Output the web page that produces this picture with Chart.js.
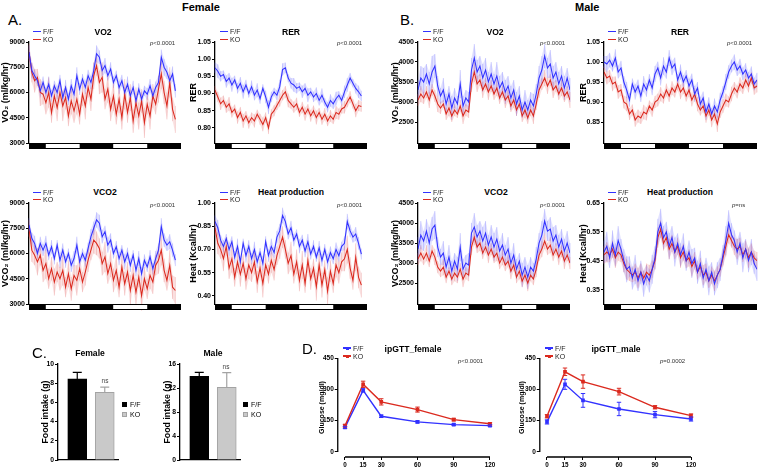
<!DOCTYPE html>
<html><head><meta charset="utf-8">
<script src="https://cdn.jsdelivr.net/npm/chart.js"></script>
<style>
html,body{margin:0;padding:0;background:#fff}
#fig{position:relative;width:758px;height:469px;overflow:hidden;font-family:"Liberation Sans",Arial,Helvetica,sans-serif;color:#000;background:#fff}
#fig canvas{position:absolute}
.tx{position:absolute;white-space:nowrap;line-height:1}
.sw{position:absolute}
</style></head><body><div id="fig"></div>
<script>
// ---------------- DATA ----------------
const STEP_H = 1; // hours between points
const lightDark = [[0,6,1],[6,18,0],[18,30,1],[30,42,0],[42,54,1]]; // [from h, to h, dark?]

// Female VO2
const fVO2_ff = [8400,7300,7000,6700,6100,6600,6000,6500,5800,6400,6000,6700,5700,6300,5600,6400,5900,7000,6200,6800,6300,7000,6600,7300,8300,8100,7300,7600,7000,7400,6600,7000,6300,6700,6000,6500,5800,6300,5500,6200,5600,6100,5900,6400,5800,6300,6600,8100,7500,7200,6700,7100,6100];
const fVO2_ffErr = [400,450,350,300,400,350,300,450,350,300,400,350,300,450,350,400,300,500,350,300,400,350,400,450,500,400,350,450,300,400,350,300,400,350,300,450,350,400,300,350,400,300,350,400,300,350,400,450,500,400,350,450,400];
const fVO2_ko = [8400,7200,6700,6900,6000,5900,5400,6000,4800,5800,5100,6000,5200,5700,4600,5500,4900,5600,4700,5900,5200,6300,5600,7000,7600,6600,6900,5600,6200,5000,5800,4700,5600,4500,5900,4800,5700,4300,5400,4600,5500,4200,5300,4600,5800,5300,6200,7100,6000,5200,6600,5000,4400];
const fVO2_koErr = [500,600,700,500,800,600,700,900,600,700,800,600,900,700,600,800,700,900,600,700,800,600,700,800,600,700,900,600,800,700,900,600,800,700,900,600,800,700,900,800,700,900,600,800,700,600,800,900,700,800,900,700,800];
// Female RER
const fRER_ff = [0.975,0.965,0.950,0.955,0.935,0.945,0.925,0.940,0.915,0.930,0.905,0.925,0.900,0.920,0.895,0.910,0.885,0.915,0.890,0.860,0.890,0.905,0.895,0.920,0.970,0.975,0.945,0.930,0.925,0.915,0.920,0.905,0.915,0.895,0.905,0.890,0.900,0.880,0.895,0.875,0.860,0.880,0.870,0.885,0.895,0.880,0.905,0.925,0.945,0.930,0.915,0.905,0.893];
const fRER_ffErr = [0.015,0.02,0.015,0.012,0.018,0.015,0.02,0.012,0.015,0.018,0.02,0.015,0.012,0.018,0.015,0.02,0.015,0.012,0.018,0.02,0.015,0.012,0.015,0.02,0.018,0.015,0.012,0.015,0.02,0.015,0.012,0.018,0.015,0.02,0.012,0.015,0.018,0.015,0.02,0.012,0.015,0.018,0.015,0.02,0.012,0.015,0.018,0.02,0.015,0.012,0.015,0.018,0.015];
const fRER_ko = [0.910,0.890,0.870,0.880,0.860,0.870,0.845,0.855,0.830,0.845,0.820,0.835,0.815,0.830,0.820,0.840,0.825,0.810,0.830,0.800,0.840,0.850,0.865,0.880,0.895,0.905,0.880,0.870,0.860,0.870,0.845,0.860,0.840,0.855,0.835,0.850,0.830,0.845,0.825,0.840,0.820,0.835,0.825,0.845,0.840,0.855,0.860,0.875,0.890,0.870,0.850,0.865,0.862];
const fRER_koErr = [0.012,0.015,0.018,0.014,0.016,0.02,0.015,0.013,0.018,0.016,0.02,0.014,0.017,0.015,0.019,0.013,0.016,0.02,0.015,0.018,0.014,0.016,0.013,0.018,0.015,0.017,0.02,0.014,0.016,0.018,0.013,0.016,0.019,0.014,0.017,0.015,0.02,0.013,0.016,0.018,0.015,0.017,0.014,0.019,0.016,0.013,0.018,0.015,0.017,0.014,0.019,0.016,0.015];
// Male VO2
const mVO2_ff = [3300,3600,3500,3700,3450,3750,3900,3400,3150,3300,2950,3200,2850,3100,2950,3450,2900,3100,3000,3800,4100,3750,3900,3600,3800,3500,3700,3450,3650,3350,3500,3250,3400,3100,3300,2950,3150,2800,3000,2800,3050,2900,3200,3600,3800,4150,3850,3950,3600,3750,3450,3650,3350,3600,3300];
const mVO2_ffErr = [250,300,350,250,300,400,300,250,200,300,250,200,300,250,200,350,250,200,250,300,350,300,250,350,300,250,300,250,350,300,250,300,250,300,250,300,250,200,300,250,200,300,250,300,350,300,250,350,300,250,300,250,300,250,300];
const mVO2_ko = [3050,3200,3100,3250,3050,3300,3150,2950,2850,2950,2700,2850,2650,2800,2700,2900,2650,2800,2750,3450,3750,3450,3550,3300,3450,3250,3400,3200,3350,3100,3250,3050,3150,2900,3050,2800,2950,2650,2800,2600,2800,2650,2950,3300,3450,3600,3400,3550,3300,3400,3200,3350,3150,3250,3050];
const mVO2_koErr = [150,200,150,150,200,150,150,200,150,100,150,200,150,150,100,150,200,150,150,200,250,200,150,200,150,200,150,150,200,150,150,200,150,150,200,150,100,150,200,150,150,200,150,200,150,200,200,150,200,150,150,200,150,150,200];
// Male RER
const mRER_ff = [1.000,0.995,1.005,0.990,1.010,0.975,0.985,0.950,0.930,0.905,0.945,0.925,0.940,0.915,0.945,0.930,0.955,0.935,0.970,0.985,0.960,0.990,0.975,1.010,0.985,0.995,0.955,0.975,0.950,0.965,0.940,0.955,0.920,0.935,0.895,0.910,0.875,0.895,0.870,0.890,0.875,0.905,0.925,0.950,0.975,0.990,1.000,0.980,0.990,0.970,0.980,0.960,0.970,0.945,0.955];
const mRER_ffErr = [0.015,0.02,0.018,0.014,0.022,0.016,0.018,0.015,0.02,0.017,0.014,0.019,0.016,0.015,0.02,0.017,0.015,0.018,0.02,0.016,0.019,0.022,0.017,0.02,0.018,0.016,0.015,0.019,0.017,0.015,0.018,0.016,0.02,0.015,0.018,0.016,0.02,0.017,0.015,0.019,0.016,0.018,0.015,0.02,0.017,0.016,0.019,0.015,0.018,0.016,0.017,0.015,0.019,0.016,0.018];
const mRER_ko = [0.975,0.960,0.965,0.945,0.950,0.925,0.930,0.900,0.895,0.870,0.880,0.855,0.865,0.860,0.875,0.870,0.890,0.880,0.900,0.905,0.920,0.910,0.930,0.915,0.935,0.925,0.945,0.925,0.935,0.915,0.930,0.905,0.920,0.895,0.880,0.890,0.865,0.880,0.855,0.870,0.845,0.875,0.890,0.905,0.900,0.920,0.935,0.925,0.945,0.935,0.955,0.940,0.960,0.935,0.940];
const mRER_koErr = [0.014,0.016,0.015,0.018,0.014,0.017,0.015,0.016,0.018,0.015,0.014,0.017,0.016,0.015,0.018,0.016,0.014,0.017,0.015,0.016,0.018,0.014,0.016,0.015,0.017,0.014,0.016,0.018,0.015,0.014,0.017,0.016,0.015,0.018,0.014,0.016,0.017,0.015,0.018,0.016,0.02,0.015,0.017,0.016,0.014,0.018,0.015,0.016,0.017,0.015,0.018,0.016,0.015,0.017,0.016];
// Female VCO2
const fVCO2_ff = [7700,6900,6600,6000,6600,6200,6600,5900,6400,5700,6500,5600,6200,5500,6000,5300,5700,6500,5500,6000,5600,6300,7000,7500,8000,7800,7000,7300,6500,6800,6000,6400,5700,6200,5500,6000,5300,5900,5000,5700,4800,5600,5200,5800,5100,5700,6200,7600,6800,6500,6700,6200,5600];
const fVCO2_ffErr = [400,350,450,300,400,350,450,300,400,350,300,450,400,350,300,400,450,500,350,300,400,350,450,400,450,500,400,350,450,400,300,350,400,300,450,350,400,300,350,450,400,350,300,400,350,450,400,500,400,350,450,400,350];
const fVCO2_ko = [7500,6200,5900,5500,5900,5000,5400,4500,5100,4300,4900,4500,5000,4000,4800,3900,4700,4400,5100,4300,4900,5600,6200,6800,6600,6300,5400,5800,4800,5400,4400,5000,4000,5200,4200,4900,3800,4700,3700,4600,3500,4500,3900,4700,4300,5300,5600,6200,5000,4400,5300,4000,3800];
const fVCO2_koErr = [500,700,600,800,600,700,900,600,700,800,600,700,900,600,800,700,600,900,700,600,800,700,600,800,700,600,700,900,600,800,700,900,600,800,700,600,900,700,800,600,900,700,600,800,700,600,800,900,700,600,900,700,800];
// Female heat production
const fHeat_ff = [0.88,0.84,0.76,0.72,0.77,0.70,0.75,0.65,0.72,0.62,0.74,0.66,0.72,0.64,0.70,0.62,0.68,0.61,0.75,0.66,0.72,0.68,0.78,0.82,0.92,0.88,0.80,0.84,0.76,0.80,0.72,0.76,0.69,0.75,0.67,0.72,0.65,0.71,0.63,0.70,0.62,0.68,0.64,0.70,0.66,0.72,0.74,0.88,0.82,0.78,0.80,0.74,0.67];
const fHeat_ffErr = [0.04,0.05,0.035,0.04,0.03,0.045,0.035,0.04,0.05,0.035,0.03,0.045,0.04,0.035,0.05,0.04,0.03,0.045,0.035,0.04,0.05,0.035,0.04,0.045,0.05,0.04,0.035,0.045,0.04,0.03,0.045,0.035,0.04,0.05,0.035,0.04,0.03,0.045,0.04,0.035,0.05,0.04,0.035,0.045,0.04,0.03,0.045,0.05,0.04,0.035,0.045,0.04,0.035];
const fHeat_ko = [0.84,0.74,0.70,0.64,0.72,0.58,0.64,0.52,0.62,0.54,0.61,0.51,0.60,0.55,0.62,0.49,0.58,0.48,0.60,0.54,0.63,0.57,0.66,0.72,0.78,0.70,0.61,0.66,0.54,0.62,0.50,0.60,0.48,0.63,0.51,0.58,0.46,0.60,0.47,0.57,0.43,0.56,0.48,0.60,0.55,0.62,0.64,0.70,0.58,0.50,0.65,0.52,0.47];
const fHeat_koErr = [0.05,0.07,0.06,0.08,0.06,0.07,0.09,0.06,0.07,0.08,0.06,0.07,0.09,0.06,0.08,0.07,0.06,0.09,0.07,0.06,0.08,0.07,0.06,0.08,0.07,0.06,0.07,0.09,0.06,0.08,0.07,0.09,0.06,0.08,0.07,0.06,0.09,0.07,0.08,0.06,0.09,0.07,0.06,0.08,0.07,0.06,0.08,0.09,0.07,0.06,0.09,0.07,0.08];
// Male VCO2
const mVCO2_ff = [3350,3700,3550,3800,3500,3850,3950,3400,3150,3250,2900,3150,2800,3050,2850,3400,2850,3000,2950,3750,3900,3650,3800,3550,3750,3450,3650,3400,3600,3300,3450,3200,3350,3000,3200,2850,3050,2700,2900,2650,2900,2800,3100,3500,3700,4050,3800,3850,3550,3700,3400,3600,3300,3500,3250];
const mVCO2_ffErr = [300,350,250,300,400,300,350,250,200,300,250,300,250,200,300,350,250,200,300,250,350,300,250,350,300,250,300,350,300,250,300,250,300,250,300,250,200,300,250,300,250,200,300,250,350,300,250,300,350,250,300,250,300,300,250];
const mVCO2_ko = [3100,3250,3100,3250,3050,3300,3150,2900,2800,2900,2650,2800,2600,2750,2650,2850,2600,2750,2700,3400,3650,3400,3500,3250,3400,3200,3350,3150,3250,3000,3150,2950,3050,2800,2950,2650,2800,2550,2700,2500,2700,2600,2850,3200,3350,3550,3350,3450,3200,3350,3150,3300,3050,3200,3000];
const mVCO2_koErr = [150,200,150,200,150,150,200,150,150,200,150,100,150,200,150,150,200,150,150,200,200,150,200,150,150,200,150,150,200,150,200,150,150,200,150,150,200,150,150,200,150,150,200,150,200,200,150,200,150,150,200,150,200,150,150];
// Male heat production
const mHeat_ff = [0.48,0.50,0.46,0.51,0.47,0.52,0.49,0.45,0.42,0.43,0.39,0.42,0.38,0.41,0.37,0.40,0.38,0.42,0.46,0.55,0.58,0.53,0.55,0.50,0.53,0.48,0.51,0.47,0.50,0.45,0.48,0.44,0.46,0.41,0.44,0.39,0.42,0.38,0.41,0.37,0.40,0.42,0.47,0.52,0.58,0.54,0.52,0.48,0.51,0.46,0.49,0.45,0.48,0.44,0.42];
const mHeat_ffErr = [0.04,0.05,0.035,0.045,0.04,0.05,0.035,0.04,0.045,0.035,0.04,0.05,0.035,0.04,0.045,0.035,0.04,0.05,0.04,0.045,0.05,0.04,0.035,0.045,0.04,0.05,0.035,0.04,0.045,0.035,0.04,0.05,0.035,0.04,0.045,0.035,0.04,0.05,0.035,0.04,0.045,0.04,0.035,0.05,0.045,0.04,0.035,0.045,0.04,0.05,0.035,0.04,0.045,0.035,0.04];
const mHeat_ko = [0.47,0.48,0.47,0.49,0.46,0.48,0.47,0.44,0.42,0.41,0.40,0.41,0.39,0.41,0.39,0.41,0.40,0.42,0.45,0.53,0.56,0.51,0.53,0.49,0.51,0.48,0.50,0.46,0.48,0.45,0.46,0.43,0.45,0.41,0.43,0.40,0.41,0.38,0.40,0.38,0.40,0.42,0.46,0.50,0.54,0.52,0.50,0.49,0.50,0.47,0.49,0.46,0.48,0.46,0.45];
const mHeat_koErr = [0.03,0.035,0.025,0.03,0.035,0.03,0.025,0.03,0.035,0.03,0.025,0.03,0.035,0.03,0.025,0.03,0.035,0.03,0.03,0.035,0.03,0.025,0.03,0.035,0.03,0.025,0.03,0.035,0.03,0.025,0.03,0.035,0.03,0.025,0.03,0.035,0.03,0.025,0.03,0.035,0.03,0.025,0.03,0.035,0.03,0.025,0.03,0.035,0.03,0.025,0.03,0.035,0.03,0.025,0.03];

// Food intake (g)
const foodGroups = ['F/F','KO'];
const foodFemale = [8.45, 7.05];
const foodFemaleErr = [0.68, 0.55];
const foodMale = [13.95, 12.1];
const foodMaleErr = [0.65, 2.45];

// ipGTT (mg/dl)
const gttMinutes = [0,15,30,60,90,120];
const gttFemale_ff = [118,295,171,144,131,126];
const gttFemale_ffErr = [5,8,6,5,4,4];
const gttFemale_ko = [126,324,240,203,155,135];
const gttFemale_koErr = [6,15,15,12,6,5];
const gttMale_ff = [144,324,247,206,179,158];
const gttMale_ffErr = [10,24,33,32,15,10];
const gttMale_ko = [171,384,337,289,214,174];
const gttMale_koErr = [8,18,32,16,8,8];

// ---------------- STYLE / HELPERS ----------------
const FONT = '"Liberation Sans", Arial, Helvetica, sans-serif';
Chart.defaults.font.family = FONT;
Chart.defaults.color = '#000';
Chart.defaults.animation = false;
Chart.defaults.plugins.legend.display = false;
Chart.defaults.plugins.tooltip.enabled = false;

const BLUE = '#3232ff', RED = '#db2a1f';
const BLUE_BAND = 'rgba(95,95,255,0.18)', RED_BAND = 'rgba(226,100,100,0.18)';
const BLUE_WH = 'rgba(120,120,255,0.45)', RED_WH = 'rgba(228,120,120,0.45)';
const fig = document.getElementById('fig');

function text(str, x, y, o = {}) {
  const d = document.createElement('div');
  d.className = 'tx';
  const s = o.size || 8;
  d.style.fontSize = s + 'px';
  d.style.fontWeight = o.bold ? 'bold' : 'normal';
  if (o.color) d.style.color = o.color;
  d.style.top = (y - 0.5 * s) + 'px';
  d.style.left = x + 'px';
  if (o.center) d.style.transform = 'translateX(-50%)';
  d.innerHTML = str;
  fig.appendChild(d);
  return d;
}
function box(x, y, w, h, css) {
  const d = document.createElement('div');
  d.className = 'sw';
  d.style.left = x + 'px'; d.style.top = y + 'px';
  d.style.width = w + 'px'; d.style.height = h + 'px';
  d.style.cssText += css;
  fig.appendChild(d);
}
function lineLegend(x, y1, y2, marker) {
  [[y1, BLUE, 'F/F'], [y2, RED, 'KO']].forEach(([y, c, t]) => {
    box(x, y - 0.75, 8, 1.5, 'background:' + c);
    if (marker) box(x + 2.5, y - 1.5, 3, 3, 'background:' + c);
    text(t, x + 10, y, {size: 7, color: '#222'});
  });
}
function mkCanvas(left, top, w, h) {
  const c = document.createElement('canvas');
  c.width = w; c.height = h;
  c.style.left = left + 'px'; c.style.top = top + 'px';
  c.style.width = w + 'px'; c.style.height = h + 'px';
  fig.appendChild(c);
  return c;
}

function drawErr(ch, layer) {
  const ctx = ch.ctx, ys = ch.scales.y;
  ch.data.datasets.forEach((ds, di) => {
    if (!ds.errs || ds.errLayer !== layer) return;
    const meta = ch.getDatasetMeta(di);
    ctx.save();
    ctx.lineWidth = ds.errWidth || 1;
    meta.data.forEach((el, i) => {
      const e = ds.errs[i]; if (e == null) return;
      const v = ds.data[i].y;
      const x = el.x;
      const yHi = ys.getPixelForValue(v + e);
      const yLo = ds.errUpOnly ? ys.getPixelForValue(v) : ys.getPixelForValue(v - e);
      ctx.strokeStyle = Array.isArray(ds.errColor) ? ds.errColor[i] : ds.errColor;
      ctx.beginPath();
      ctx.moveTo(x, yLo); ctx.lineTo(x, yHi);
      if (ds.errCap) {
        ctx.moveTo(x - ds.errCap, yHi); ctx.lineTo(x + ds.errCap, yHi);
        if (!ds.errUpOnly) { ctx.moveTo(x - ds.errCap, yLo); ctx.lineTo(x + ds.errCap, yLo); }
      }
      ctx.stroke();
    });
    ctx.restore();
  });
}
const errPlugin = {
  id: 'errbars',
  beforeDatasetsDraw(ch) { drawErr(ch, 'under'); },
  afterDatasetsDraw(ch) { drawErr(ch, 'over'); }
};

function yAxis(p, fontSize, titleSize) {
  return {
    min: p.yMin, max: p.yMax,
    afterBuildTicks: s => { s.ticks = p.ticks.map(v => ({value: v})); },
    afterFit: s => { s.width = p.L - p.cl; },
    ticks: {font: {size: fontSize, weight: 'bold'}, color: '#000', padding: 1, callback: v => Number(v).toFixed(p.dec)},
    grid: {drawOnChartArea: false, drawTicks: true, tickLength: 3, color: '#000', lineWidth: 1},
    border: {display: p.border !== false, color: '#000', width: 1.3},
    title: {display: true, text: p.yTitle, font: {size: titleSize, weight: 'bold'}, color: '#000', padding: 0}
  };
}

// time series panel
function makeTS(p) {
  const top = p.T - 6, w = p.R - p.cl + 3, h = (p.B - top) + 7 + 1;
  const c = mkCanvas(p.cl, top, w, h);
  const pts = a => a.map((v, i) => ({x: i * STEP_H, y: v}));
  const line = (vals, errs, col, wh) => ({data: pts(vals), borderColor: col, borderWidth: 1.05, pointRadius: 0, fill: false, tension: 0,
    errs: errs, errColor: wh, errWidth: 0.7, errLayer: 'under'});
  const band = (vals, errs, col) => [
    {data: vals.map((v, i) => ({x: i * STEP_H, y: v + errs[i]})), borderColor: 'rgba(0,0,0,0)', borderWidth: 0, pointRadius: 0, fill: false},
    {data: vals.map((v, i) => ({x: i * STEP_H, y: v - errs[i]})), borderColor: 'rgba(0,0,0,0)', borderWidth: 0, pointRadius: 0, fill: '-1', backgroundColor: col}
  ];
  const ld = {
    id: 'ldbar',
    afterDraw(ch) {
      const ctx = ch.ctx, xs = ch.scales.x, a = ch.chartArea;
      const y = a.bottom, hh = 6;
      ctx.save();
      lightDark.forEach(sg => {
        const x0 = xs.getPixelForValue(sg[0]), x1 = xs.getPixelForValue(sg[1]);
        ctx.fillStyle = sg[2] ? '#000' : '#fff';
        ctx.fillRect(x0, y, x1 - x0, hh);
      });
      ctx.strokeStyle = '#000'; ctx.lineWidth = 1;
      const xa = xs.getPixelForValue(lightDark[0][0]), xb = xs.getPixelForValue(lightDark[lightDark.length - 1][1]);
      ctx.strokeRect(xa + 0.5, y + 0.5, xb - xa - 1, hh - 1);
      ctx.restore();
    }
  };
  new Chart(c, {
    type: 'line',
    data: {datasets: [line(p.ff, p.ffE, BLUE, BLUE_WH), line(p.ko, p.koE, RED, RED_WH), ...band(p.ff, p.ffE, BLUE_BAND), ...band(p.ko, p.koE, RED_BAND)]},
    options: {
      responsive: false, animation: false,
      layout: {padding: {top: 6, left: 0, right: 3, bottom: 1}},
      scales: {
        x: {type: 'linear', min: 0, max: 54, ticks: {display: false}, grid: {display: false}, border: {display: false}, afterFit: s => { s.height = 7; }},
        y: yAxis(p, 7, p.ts || 9)
      }
    },
    plugins: [errPlugin, ld]
  });
}

// food intake bar panel
function makeBar(p) {
  const ppu = 27.5, xMin = 0.3, xMax = 2.5;
  const R = p.L + (xMax - xMin) * ppu;
  const top = p.T - 6, w = Math.ceil(R - p.cl + 4), h = p.B - top + 11;
  const c = mkCanvas(p.cl, top, w, h);
  new Chart(c, {
    type: 'bar',
    data: {datasets: [{
      data: p.vals.map((v, i) => ({x: i + 1, y: v})),
      backgroundColor: ['#000', '#c9c9c9'], borderColor: ['#000', '#a3a3a3'], borderWidth: 1, barThickness: 19,
      errs: p.errs, errUpOnly: true, errCap: 4.5, errColor: ['#000', '#a3a3a3'], errWidth: 1.2, errLayer: 'over'
    }]},
    options: {
      responsive: false, animation: false,
      layout: {padding: {top: 6, left: 0, right: w - (R - p.cl), bottom: 0}},
      scales: {
        x: {type: 'linear', min: xMin, max: xMax, offset: false,
          afterBuildTicks: s => { s.ticks = foodGroups.map((g, i) => ({value: i + 1})); },
          afterFit: s => { s.height = 11; },
          ticks: {font: {size: 7, weight: 'bold'}, color: '#000', padding: 1, callback: v => foodGroups[Math.round(v) - 1]},
          grid: {display: false, offset: false}, border: {display: true, color: '#000', width: 1.3}},
        y: yAxis(p, 6.8, 8.8)
      }
    },
    plugins: [errPlugin]
  });
}

// ipGTT panel
function makeGTT(p) {
  const xMin = -6, xMax = 123;
  const L = p.x0 + xMin * p.ppm, R = p.x0 + xMax * p.ppm;
  p.L = L;
  const top = p.T - 6, w = Math.ceil(R - p.cl + 5), bottomAxis = 457, h = bottomAxis - top + 12;
  const c = mkCanvas(p.cl, top, w, h);
  const ds = (vals, errs, col) => ({data: vals.map((v, i) => ({x: gttMinutes[i], y: v})), borderColor: col, backgroundColor: col,
    borderWidth: 1.4, pointRadius: 1.6, pointStyle: 'rect', tension: 0, fill: false,
    errs: errs, errColor: col, errCap: 2.2, errWidth: 1, errLayer: 'over'});
  const axes = {
    id: 'prismAxes',
    afterDraw(ch) {
      const ctx = ch.ctx, xs = ch.scales.x, ys = ch.scales.y, a = ch.chartArea;
      ctx.save(); ctx.strokeStyle = '#000'; ctx.lineWidth = 1.3; ctx.beginPath();
      ctx.moveTo(a.left, ys.getPixelForValue(p.ticks[p.ticks.length - 1])); ctx.lineTo(a.left, ys.getPixelForValue(p.ticks[0]));
      ctx.moveTo(xs.getPixelForValue(gttMinutes[0]), a.bottom); ctx.lineTo(xs.getPixelForValue(gttMinutes[gttMinutes.length - 1]), a.bottom);
      ctx.stroke(); ctx.restore();
    }
  };
  const yc = yAxis(Object.assign({}, p, {border: false}), 6.5, 7);
  new Chart(c, {
    type: 'line',
    data: {datasets: [ds(p.ko, p.koE, RED), ds(p.ff, p.ffE, BLUE)]},
    options: {
      responsive: false, animation: false,
      layout: {padding: {top: 6, left: 0, right: w - (R - p.cl), bottom: 0}},
      scales: {
        x: {type: 'linear', min: xMin, max: xMax,
          afterBuildTicks: s => { s.ticks = gttMinutes.map(v => ({value: v})); },
          afterFit: s => { s.height = 12; },
          ticks: {font: {size: 6.3, weight: 'bold'}, color: '#000', padding: 1},
          grid: {drawOnChartArea: false, drawTicks: true, tickLength: 3, color: '#000', lineWidth: 1},
          border: {display: false}},
        y: yc
      }
    },
    plugins: [errPlugin, axes]
  });
}

// ---------------- BUILD ----------------
const R1 = {T: 42, B: 143}, R2 = {T: 203, B: 304};
makeTS(Object.assign({cl: 0, L: 29, R: 181, yMin: 3000, yMax: 9000, ticks: [3000,4500,6000,7500,9000], dec: 0, yTitle: 'VO₂ (ml/kg/hr)',
  ff: fVO2_ff, ffE: fVO2_ffErr, ko: fVO2_ko, koE: fVO2_koErr}, R1));
makeTS(Object.assign({cl: 188, L: 215, R: 367, yMin: 0.756, yMax: 1.05, ticks: [0.80,0.85,0.90,0.95,1.00,1.05], dec: 2, yTitle: 'RER',
  ff: fRER_ff, ffE: fRER_ffErr, ko: fRER_ko, koE: fRER_koErr}, R1));
makeTS(Object.assign({cl: 390, L: 418, R: 570, yMin: 1975, yMax: 4500, ticks: [2500,3000,3500,4000,4500], dec: 0, yTitle: 'VO₂ (ml/kg/hr)',
  ff: mVO2_ff, ffE: mVO2_ffErr, ko: mVO2_ko, koE: mVO2_koErr}, R1));
makeTS(Object.assign({cl: 578, L: 604, R: 757, yMin: 0.7975, yMax: 1.05, ticks: [0.85,0.90,0.95,1.00,1.05], dec: 2, yTitle: 'RER',
  ff: mRER_ff, ffE: mRER_ffErr, ko: mRER_ko, koE: mRER_koErr}, R1));
makeTS(Object.assign({cl: 0, L: 29, R: 181, yMin: 3000, yMax: 9000, ticks: [3000,4500,6000,7500,9000], dec: 0, yTitle: 'VCO₂ (ml/kg/hr)',
  ff: fVCO2_ff, ffE: fVCO2_ffErr, ko: fVCO2_ko, koE: fVCO2_koErr}, R2));
makeTS(Object.assign({cl: 188, L: 215, R: 367, yMin: 0.348, yMax: 1.0, ticks: [0.40,0.55,0.70,0.85,1.00], dec: 2, yTitle: 'Heat (Kcal/hr)',
  ff: fHeat_ff, ffE: fHeat_ffErr, ko: fHeat_ko, koE: fHeat_koErr}, R2));
makeTS(Object.assign({cl: 390, L: 418, R: 570, yMin: 1980, yMax: 4500, ticks: [2500,3000,3500,4000,4500], dec: 0, yTitle: 'VCO₂ (ml/kg/hr)',
  ff: mVCO2_ff, ffE: mVCO2_ffErr, ko: mVCO2_ko, koE: mVCO2_koErr}, R2));
makeTS(Object.assign({cl: 578, L: 604, R: 757, yMin: 0.30, yMax: 0.65, ticks: [0.35,0.45,0.55,0.65], dec: 2, yTitle: 'Heat (Kcal/hr)',
  ff: mHeat_ff, ffE: mHeat_ffErr, ko: mHeat_ko, koE: mHeat_koErr}, R2));

makeBar({cl: 40, L: 58, T: 364, B: 460, yMin: 0, yMax: 10, ticks: [0,2,4,6,8,10], dec: 0, yTitle: 'Food intake (g)', vals: foodFemale, errs: foodFemaleErr});
makeBar({cl: 162, L: 180, T: 364, B: 460, yMin: 0, yMax: 16, ticks: [0,4,8,12,16], dec: 0, yTitle: 'Food intake (g)', vals: foodMale, errs: foodMaleErr});

makeGTT({cl: 318, x0: 345, ppm: 145 / 120, T: 358, yMin: -24, yMax: 450, ticks: [0,150,300,450], dec: 0, yTitle: 'Glucose (mg/dl)',
  ff: gttFemale_ff, ffE: gttFemale_ffErr, ko: gttFemale_ko, koE: gttFemale_koErr});
makeGTT({cl: 518, x0: 547, ppm: 144 / 120, T: 358, yMin: -24, yMax: 450, ticks: [0,150,300,450], dec: 0, yTitle: 'Glucose (mg/dl)',
  ff: gttMale_ff, ffE: gttMale_ffErr, ko: gttMale_ko, koE: gttMale_koErr});

// ---------------- TEXT ----------------
text('A.', 8, 19, {size: 15});
text('Female', 182, 7.5, {size: 11, bold: true});
text('B.', 400, 19, {size: 15});
text('Male', 575, 7.5, {size: 11, bold: true});
text('C.', 32, 352, {size: 15});
text('D.', 302, 348, {size: 15});

[[103, 32, 'VO2'], [291, 32, 'RER'], [495, 32, 'VO2'], [680, 32, 'RER'],
 [105, 192, 'VCO2'], [291, 192, 'Heat production'], [496, 192, 'VCO2'], [680, 192, 'Heat production'],
 [90, 353, 'Female'], [213, 353, 'Male'], [413, 349, 'ipGTT_female'], [616, 349, 'ipGTT_male']]
  .forEach(([x, y, t]) => text(t, x, y, {size: 8.6, bold: true, center: true}));

[[150, 43, '<i>p</i>&lt;0.0001'], [337, 43, '<i>p</i>&lt;0.0001'], [540, 43, '<i>p</i>&lt;0.0001'], [727, 43, '<i>p</i>&lt;0.0001'],
 [150, 205, '<i>p</i>&lt;0.0001'], [337, 205, '<i>p</i>&lt;0.0001'], [540, 205, '<i>p</i>&lt;0.0001'], [732, 205, '<i>p</i>=ns'],
 [458, 361, '<i>p</i>&lt;0.0001'], [660, 361, '<i>p</i>=0.0002']]
  .forEach(([x, y, t]) => text(t, x, y, {size: 6, color: '#333'}));

lineLegend(33, 31.7, 39.3); lineLegend(220, 31.7, 39.3); lineLegend(423, 31.7, 39.3); lineLegend(608, 31.7, 39.3);
lineLegend(33, 192.3, 199.3); lineLegend(220, 192.3, 199.3); lineLegend(423, 192.3, 199.3); lineLegend(608, 192.3, 199.3);
lineLegend(343, 348, 356, true); lineLegend(545, 348, 356, true);

// food intake legends and ns marks
[[122], [243]].forEach(([x]) => {
  box(x, 401.5, 5, 5, 'background:#000');
  text('F/F', x + 8, 404, {size: 7});
  box(x, 411.5, 5, 5, 'background:#c9c9c9;border:0.5px solid #a3a3a3;box-sizing:border-box');
  text('KO', x + 8, 414, {size: 7});
});
text('ns', 105, 381, {size: 6.5, color: '#444', center: true});
text('ns', 226, 367, {size: 6.5, color: '#444', center: true});
</script></body></html>
